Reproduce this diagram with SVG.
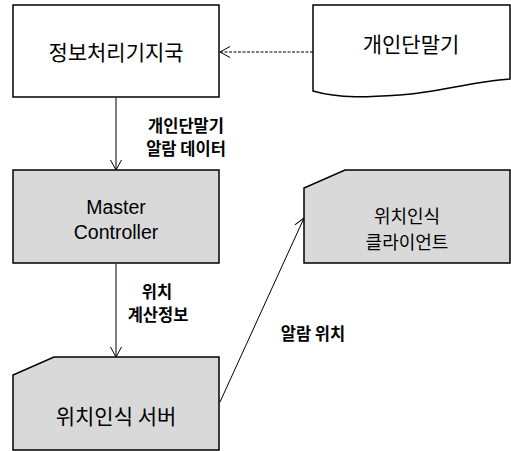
<svg xmlns="http://www.w3.org/2000/svg" width="511" height="451" viewBox="0 0 511 451">
<defs>
<marker id="open" viewBox="0 0 10 12" refX="10" refY="6" markerWidth="10" markerHeight="12" markerUnits="userSpaceOnUse" orient="auto">
<path d="M0,0.5 L10,6 L0,11.5" fill="none" stroke="#000" stroke-width="1"/>
</marker>
</defs>
<style>
.shape{stroke:#000;stroke-width:1.5}
.white{fill:#fff}
.gray{fill:#d9d9d9}
.t{font-family:"Noto Sans CJK KR","Liberation Sans",sans-serif;font-size:21px;fill:#000;text-anchor:middle;dominant-baseline:central}
.e{font-family:"Liberation Sans",sans-serif;font-size:19.5px}
.s{font-size:18px}
.lb{font-family:"Noto Sans CJK KR","Liberation Sans",sans-serif;font-size:16.5px;font-weight:bold;fill:#000;text-anchor:middle;dominant-baseline:central}
.c{fill:none;stroke:#000;stroke-width:1}
</style>
<rect width="511" height="451" fill="#fff"/>
<g id="connectors">
<line class="c" x1="313" y1="52" x2="220" y2="52" stroke-dasharray="3,1.5" marker-end="url(#open)"/>
<line class="c" x1="116" y1="98" x2="116" y2="170" marker-end="url(#open)"/>
<line class="c" x1="116" y1="264" x2="116" y2="357" marker-end="url(#open)"/>
<line class="c" x1="220" y1="402" x2="304" y2="218" marker-end="url(#open)"/>
</g>
<g id="n1">
<rect class="shape white" x="13" y="5" width="206" height="92"/>
<text class="t" x="116" y="51">정보처리기지국</text>
</g>
<g id="n2">
<path class="shape white" d="M313,5 H510 V79 C470,82 440,92 400,95 C370,97 340,99 313,91 Z"/>
<text class="t" x="411" y="43">개인단말기</text>
</g>
<g id="n3">
<rect class="shape gray" x="13" y="170" width="206" height="93"/>
<text class="t e" x="116" y="207">Master</text>
<text class="t e" x="116" y="232">Controller</text>
</g>
<g id="n4">
<path class="shape gray" d="M345,170 H510 V263 H304 V188 Z"/>
<text class="t s" x="407" y="215">위치인식</text>
<text class="t s" x="407" y="241">클라이언트</text>
</g>
<g id="n5">
<path class="shape gray" d="M54,357 H219 V450 H13 V375 Z"/>
<text class="t" x="116" y="415">위치인식 서버</text>
</g>
<g id="labels">
<text class="lb" x="186" y="125">개인단말기</text>
<text class="lb" x="186" y="148">알람 데이터</text>
<text class="lb" x="157" y="291">위치</text>
<text class="lb" x="158" y="314">계산정보</text>
<text class="lb" x="313" y="333">알람 위치</text>
</g>
</svg>
